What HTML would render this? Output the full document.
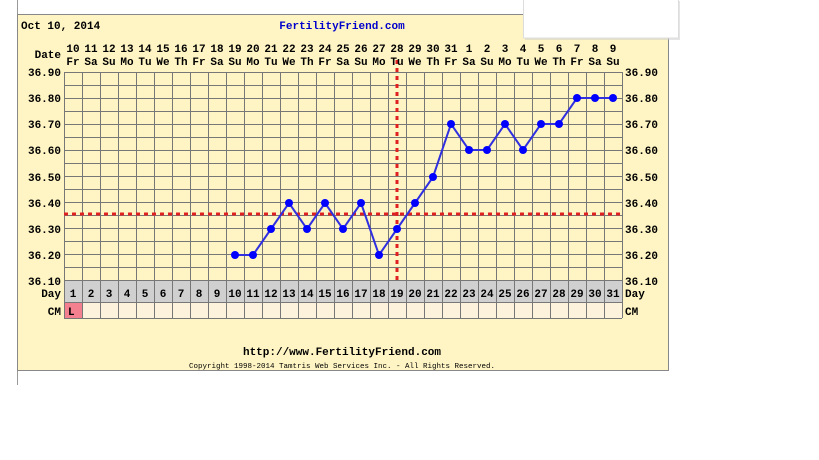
<!DOCTYPE html><html><head><meta charset="utf-8"><style>
body{margin:0;background:#fff;width:819px;height:460px;overflow:hidden}
svg{display:block}
text{font-family:"Liberation Mono",monospace;font-weight:bold;font-size:11px;fill:#000}
.c{text-anchor:middle}.r{text-anchor:end}
</style></head><body>
<svg width="819" height="460" viewBox="0 0 819 460">
<line x1="17.5" y1="0" x2="17.5" y2="385" stroke="#999"/>
<rect x="17.5" y="14.5" width="651" height="356" fill="#fff5c4" stroke="#888"/>
<rect x="64" y="281" width="558" height="22" fill="#d0d0d0"/>
<rect x="64" y="303" width="558" height="15" fill="#fdf3dc"/>
<rect x="64" y="303" width="18" height="15" fill="#f2808f"/>
<path stroke="#777" stroke-width="1" fill="none" d="M64.5 72V318M82.5 72V318M100.5 72V318M118.5 72V318M136.5 72V318M154.5 72V318M172.5 72V318M190.5 72V318M208.5 72V318M226.5 72V318M244.5 72V318M262.5 72V318M280.5 72V318M298.5 72V318M316.5 72V318M334.5 72V318M352.5 72V318M370.5 72V318M388.5 72V318M406.5 72V318M424.5 72V318M442.5 72V318M460.5 72V318M478.5 72V318M496.5 72V318M514.5 72V318M532.5 72V318M550.5 72V318M568.5 72V318M586.5 72V318M604.5 72V318M622.5 72V318
M64 72.5H622M64 85.5H622M64 98.5H622M64 111.5H622M64 124.5H622M64 137.5H622M64 150.5H622M64 163.5H622M64 176.5H622M64 189.5H622M64 202.5H622M64 215.5H622M64 228.5H622M64 241.5H622M64 254.5H622M64 267.5H622M64 280.5H622M64 302.5H622M64 318.5H622"/>
<line x1="64" y1="214" x2="622" y2="214" stroke="#e02020" stroke-width="3" stroke-dasharray="4,4"/>
<line x1="397" y1="60" x2="397" y2="281" stroke="#e02020" stroke-width="3" stroke-dasharray="4,4"/>
<polyline fill="none" stroke="#3030e0" stroke-width="2" points="235,255 253,255 271,229 289,203 307,229 325,203 343,229 361,203 379,255 397,229 415,203 433,177 451,124 469,150 487,150 505,124 523,150 541,124 559,124 577,98 595,98 613,98"/>
<g fill="#0000ff">
<circle cx="235" cy="255" r="4"/><circle cx="253" cy="255" r="4"/><circle cx="271" cy="229" r="4"/><circle cx="289" cy="203" r="4"/><circle cx="307" cy="229" r="4"/><circle cx="325" cy="203" r="4"/><circle cx="343" cy="229" r="4"/><circle cx="361" cy="203" r="4"/><circle cx="379" cy="255" r="4"/><circle cx="397" cy="229" r="4"/><circle cx="415" cy="203" r="4"/><circle cx="433" cy="177" r="4"/><circle cx="451" cy="124" r="4"/><circle cx="469" cy="150" r="4"/><circle cx="487" cy="150" r="4"/><circle cx="505" cy="124" r="4"/><circle cx="523" cy="150" r="4"/><circle cx="541" cy="124" r="4"/><circle cx="559" cy="124" r="4"/><circle cx="577" cy="98" r="4"/><circle cx="595" cy="98" r="4"/><circle cx="613" cy="98" r="4"/>
</g>
<text x="21" y="29">Oct 10, 2014</text>
<text x="342" y="29" class="c" style="fill:#0000cc">FertilityFriend.com</text>
<text x="61" y="58" class="r">Date</text>
<g class="c">
<text x="73" y="52" class="c">10</text><text x="91" y="52" class="c">11</text><text x="109" y="52" class="c">12</text><text x="127" y="52" class="c">13</text><text x="145" y="52" class="c">14</text><text x="163" y="52" class="c">15</text><text x="181" y="52" class="c">16</text><text x="199" y="52" class="c">17</text><text x="217" y="52" class="c">18</text><text x="235" y="52" class="c">19</text><text x="253" y="52" class="c">20</text><text x="271" y="52" class="c">21</text><text x="289" y="52" class="c">22</text><text x="307" y="52" class="c">23</text><text x="325" y="52" class="c">24</text><text x="343" y="52" class="c">25</text><text x="361" y="52" class="c">26</text><text x="379" y="52" class="c">27</text><text x="397" y="52" class="c">28</text><text x="415" y="52" class="c">29</text><text x="433" y="52" class="c">30</text><text x="451" y="52" class="c">31</text><text x="469" y="52" class="c">1</text><text x="487" y="52" class="c">2</text><text x="505" y="52" class="c">3</text><text x="523" y="52" class="c">4</text><text x="541" y="52" class="c">5</text><text x="559" y="52" class="c">6</text><text x="577" y="52" class="c">7</text><text x="595" y="52" class="c">8</text><text x="613" y="52" class="c">9</text>
<text x="73" y="65" class="c">Fr</text><text x="91" y="65" class="c">Sa</text><text x="109" y="65" class="c">Su</text><text x="127" y="65" class="c">Mo</text><text x="145" y="65" class="c">Tu</text><text x="163" y="65" class="c">We</text><text x="181" y="65" class="c">Th</text><text x="199" y="65" class="c">Fr</text><text x="217" y="65" class="c">Sa</text><text x="235" y="65" class="c">Su</text><text x="253" y="65" class="c">Mo</text><text x="271" y="65" class="c">Tu</text><text x="289" y="65" class="c">We</text><text x="307" y="65" class="c">Th</text><text x="325" y="65" class="c">Fr</text><text x="343" y="65" class="c">Sa</text><text x="361" y="65" class="c">Su</text><text x="379" y="65" class="c">Mo</text><text x="397" y="65" class="c">Tu</text><text x="415" y="65" class="c">We</text><text x="433" y="65" class="c">Th</text><text x="451" y="65" class="c">Fr</text><text x="469" y="65" class="c">Sa</text><text x="487" y="65" class="c">Su</text><text x="505" y="65" class="c">Mo</text><text x="523" y="65" class="c">Tu</text><text x="541" y="65" class="c">We</text><text x="559" y="65" class="c">Th</text><text x="577" y="65" class="c">Fr</text><text x="595" y="65" class="c">Sa</text><text x="613" y="65" class="c">Su</text>
<text x="73" y="297" class="c">1</text><text x="91" y="297" class="c">2</text><text x="109" y="297" class="c">3</text><text x="127" y="297" class="c">4</text><text x="145" y="297" class="c">5</text><text x="163" y="297" class="c">6</text><text x="181" y="297" class="c">7</text><text x="199" y="297" class="c">8</text><text x="217" y="297" class="c">9</text><text x="235" y="297" class="c">10</text><text x="253" y="297" class="c">11</text><text x="271" y="297" class="c">12</text><text x="289" y="297" class="c">13</text><text x="307" y="297" class="c">14</text><text x="325" y="297" class="c">15</text><text x="343" y="297" class="c">16</text><text x="361" y="297" class="c">17</text><text x="379" y="297" class="c">18</text><text x="397" y="297" class="c">19</text><text x="415" y="297" class="c">20</text><text x="433" y="297" class="c">21</text><text x="451" y="297" class="c">22</text><text x="469" y="297" class="c">23</text><text x="487" y="297" class="c">24</text><text x="505" y="297" class="c">25</text><text x="523" y="297" class="c">26</text><text x="541" y="297" class="c">27</text><text x="559" y="297" class="c">28</text><text x="577" y="297" class="c">29</text><text x="595" y="297" class="c">30</text><text x="613" y="297" class="c">31</text>
</g>
<text x="68" y="315">L</text>
<g>
<text x="61" y="76" class="r">36.90</text><text x="61" y="102" class="r">36.80</text><text x="61" y="128" class="r">36.70</text><text x="61" y="154" class="r">36.60</text><text x="61" y="181" class="r">36.50</text><text x="61" y="207" class="r">36.40</text><text x="61" y="233" class="r">36.30</text><text x="61" y="259" class="r">36.20</text><text x="61" y="285" class="r">36.10</text>
<text x="61" y="297" class="r">Day</text><text x="61" y="315" class="r">CM</text>
<text x="625" y="76">36.90</text><text x="625" y="102">36.80</text><text x="625" y="128">36.70</text><text x="625" y="154">36.60</text><text x="625" y="181">36.50</text><text x="625" y="207">36.40</text><text x="625" y="233">36.30</text><text x="625" y="259">36.20</text><text x="625" y="285">36.10</text>
<text x="625" y="297">Day</text><text x="625" y="315">CM</text>
</g>
<text x="342" y="355" class="c">http://www.FertilityFriend.com</text>
<text x="342" y="368" class="c" style="font-size:7.5px;font-weight:normal">Copyright 1998-2014 Tamtris Web Services Inc. - All Rights Reserved.</text>
<rect x="524" y="0" width="155" height="39" fill="#ccc" opacity="0.5" transform="translate(1,1)"/>
<rect x="523.5" y="-1" width="155" height="39" fill="#fff" stroke="#ddd"/>
</svg>
</body></html>
